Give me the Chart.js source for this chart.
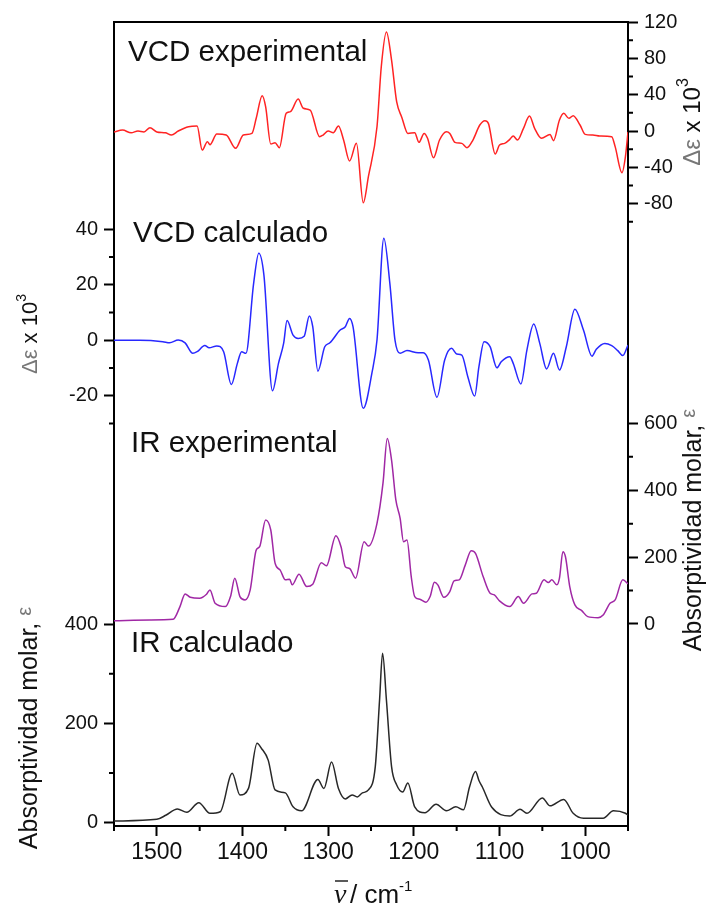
<!DOCTYPE html>
<html>
<head>
<meta charset="utf-8">
<script src="https://cdn.jsdelivr.net/npm/chart.js@4.4.1/dist/chart.umd.min.js"></script>
<style>
body { margin: 0; background: #fff; }
canvas { display: block; }
</style>
</head>
<body>
<canvas id="chart" width="707" height="909"></canvas>
<script>
// wavenumbers (cm-1) and values, one pair of arrays per trace
var vcdExpX = [1550,1540,1530,1522,1515,1508,1500,1490,1483,1475,1463,1453,1447,1441,1438,1430,1419,1408,1399,1389,1384,1377,1373,1367,1362,1357,1349,1344,1335,1329,1321,1310,1306,1300,1294,1288,1282,1275,1267,1259,1253,1243,1238,1232,1226,1220,1214,1207,1199,1194,1188,1184,1177,1170,1162,1158,1152,1144,1138,1131,1123,1117,1113,1105,1100,1094,1088,1084,1079,1072,1065,1059,1051,1041,1037,1030,1025,1019,1014,1006,1000,991,983,969,965,957,953,950];
var vcdExpY = [-1,1,-2,0,-1,3.6,-1,-2,-4.4,0,4.7,5.5,-21,-11.7,-15,-3.3,-4.4,-19,-4.4,-2.6,14,38.9,26.8,-14.3,-12.9,-18.4,19.5,21.3,35.2,25,23.1,-6.2,-4.4,0,-1.8,5.5,-9.9,-33,-13.6,-79,-50,4.7,70.8,109,78,32,15,-2.6,-1.8,-12.5,-2.6,-8,-29.4,-9.9,-0.7,-2.6,-12.5,-13.6,-18.4,-9.9,6.6,11.4,8.4,-25.3,-15.4,-13.6,-9.2,-5.5,-9.9,2.9,16.5,2.9,-8,-3.7,-10.6,12.1,19.5,14,16.9,6.6,-3.7,-4.4,-5.5,-6.2,-17.2,-45.9,-28.3,-1];

var vcdCalcX = [1550,1520,1493,1485,1475,1467,1458,1453,1444,1439,1430,1422,1413,1406,1401,1396,1387,1381,1375,1365,1358,1352,1348,1341,1335,1328,1322,1318,1312,1304,1298,1286,1280,1275,1271,1259,1249,1243,1235,1228,1222,1216,1208,1195,1189,1183,1173,1164,1156,1150,1144,1137,1129,1124,1118,1111,1103,1098,1088,1084,1075,1068,1060,1053,1045,1037,1030,1022,1012,1002,992,987,977,969,962,956,950];
var vcdCalcY = [0,0,-0.5,-0.9,0.1,-0.9,-4.7,-4.1,-1.9,-2.7,-2,-4.1,-15.9,-8.3,-4.1,-4.7,20.5,31.4,23.5,-18.2,-8.3,-1.1,7.1,1.9,0.7,1.5,8.8,4.9,-11.1,-2.3,-0.9,3.7,4.9,7.9,4.9,-24.5,-11.9,0.1,36.8,20.5,0.1,-4.7,-3.7,-4.5,-4.5,-7.1,-20.5,-7.1,-2.9,-4.9,-5.3,-13.1,-20.1,-9.5,-0.5,-2.3,-9.9,-7.7,-5.9,-8.3,-15.7,-3.5,5.9,-1.1,-10.3,-4.7,-10.7,-2.3,11.2,3.7,-5.7,-3.2,-1.1,-1.9,-3.7,-5.5,-1.7];

var irExpX = [1550,1508,1481,1473,1467,1461,1450,1442,1438,1432,1420,1414,1409,1403,1397,1391,1384,1380,1373,1367,1362,1356,1350,1345,1342,1334,1325,1318,1308,1302,1291,1285,1280,1275,1268,1258,1253,1243,1236,1231,1226,1221,1216,1212,1208,1203,1199,1193,1186,1181,1176,1172,1165,1158,1153,1147,1140,1133,1128,1119,1111,1106,1100,1088,1078,1072,1062,1057,1048,1043,1039,1033,1030,1026,1023,1018,1012,1004,997,985,979,971,965,956,950];
var irExpY = [10,12,14,52,90,80,77,89,102,62,52,82,137,82,72,102,221,231,311,281,182,161,132,134,117,149,112,119,183,174,264,231,171,166,137,246,233,301,421,555,490,371,316,246,251,141,82,74,65,82,125,117,80,97,129,132,176,219,211,141,92,87,69,52,82,62,90,92,132,124,132,117,137,216,201,112,57,40,22,19,27,62,72,132,120];

var irCalcX = [1550,1500,1489,1476,1465,1451,1438,1426,1412,1403,1393,1383,1378,1370,1362,1350,1341,1331,1312,1305,1296,1288,1280,1272,1266,1260,1253,1245,1240,1236.5,1232,1226,1220,1213,1207,1199,1187,1174,1162,1151,1142,1135,1128,1124,1120,1109,1088,1076,1068,1050,1041,1025,1014,1002,979,967,953,950];
var irCalcY = [3.4,6.8,15.5,27.6,20.9,40.3,18.9,22.1,99.4,55.8,69.2,159.8,150,126,66,60,32,24,87,69,122,69,48,56,52,60,66,113,247,341,247,113,76,62,80,32,20,37,24,32,26,72,103,85,72,31,13.5,27,19,50,34,47,19,9,9,24,19,15];

// tick labels
var xTicks = [1500,1400,1300,1200,1100,1000];
var vcdExpTicks = [-80,-40,0,40,80,120];
var irExpTicks = [0,200,400,600];
var vcdCalcTicks = [-20,0,20,40];
var irCalcTicks = [0,200,400];

// unlabelled short ticks
var xMinor = [1550,1450,1350,1250,1150,1050,950];
var vcdExpMinor = [100,60,20,-20,-60,-100];
var irExpMinor = [100,300,500];
var vcdCalcMinor = [30,10,-10,-30];
var irCalcMinor = [100,300];

var labelFont = {family: 'Liberation Sans, Arial, sans-serif', size: 20};

function points(xs, ys)
{
	return xs.map(function (x, i) { return {x: x, y: ys[i]}; });
}

function yAxis(position, min, max, ticks, weight, width)
{
	return {
		type: 'linear',
		position: position,
		min: min,
		max: max,
		weight: weight,
		afterBuildTicks: function (scale) {
			scale.ticks = ticks.map(function (v) { return {value: v}; });
		},
		afterFit: function (scale) { scale.width = width; },
		grid: {drawOnChartArea: false, tickLength: 10, tickWidth: 2, tickColor: '#000'},
		border: {display: true, width: 2, color: '#000'},
		ticks: {
			padding: 6,
			color: '#111',
			font: labelFont,
			callback: function (v) { return String(v); }
		}
	};
}

function line(label, xs, ys, color, axis)
{
	return {
		label: label,
		data: points(xs, ys),
		yAxisID: axis,
		borderColor: color,
		borderWidth: 1.5,
		pointRadius: 0,
		cubicInterpolationMode: 'monotone',
		fill: false
	};
}

// rotated title made of [text, colour, size, raise] parts
function rotatedText(ctx, cx, cy, parts)
{
	var total = 0;
	parts.forEach(function (p) {
		ctx.font = p[2] + 'px "Liberation Sans", Arial, sans-serif';
		p.w = ctx.measureText(p[0]).width;
		total += p.w;
	});
	ctx.save();
	ctx.translate(cx, cy);
	ctx.rotate(-Math.PI / 2);
	ctx.textBaseline = 'alphabetic';
	ctx.textAlign = 'left';
	var x = -total / 2;
	var base = parts[0][2] * 0.36;
	parts.forEach(function (p) {
		ctx.font = p[2] + 'px "Liberation Sans", Arial, sans-serif';
		ctx.fillStyle = p[1];
		ctx.fillText(p[0], x, base - (p[3] || 0));
		x += p.w;
	});
	ctx.restore();
}

var extras = {
	id: 'extras',
	afterLayout: function (chart)
	{
		// the two inner axes have no width of their own; give their labels room to show
		chart.scales.yVcdCalc.left = 0;
		chart.scales.yVcdExp.right = chart.width;
	},
	afterDraw: function (chart)
	{
		var ctx = chart.ctx;
		var area = chart.chartArea;
		var s = chart.scales;

		ctx.save();
		ctx.strokeStyle = '#000';
		ctx.lineWidth = 2;

		// top of the frame
		ctx.beginPath();
		ctx.moveTo(area.left - 1, area.top);
		ctx.lineTo(area.right + 1, area.top);
		ctx.stroke();

		// short ticks
		ctx.beginPath();
		xMinor.forEach(function (v) {
			var px = s.x.getPixelForValue(v);
			ctx.moveTo(px, s.x.top); ctx.lineTo(px, s.x.top + 5);
		});
		[['yVcdCalc', vcdCalcMinor], ['yIrCalc', irCalcMinor]].forEach(function (a) {
			a[1].forEach(function (v) {
				var py = s[a[0]].getPixelForValue(v);
				ctx.moveTo(area.left, py); ctx.lineTo(area.left - 5, py);
			});
		});
		[['yVcdExp', vcdExpMinor], ['yIrExp', irExpMinor]].forEach(function (a) {
			a[1].forEach(function (v) {
				var py = s[a[0]].getPixelForValue(v);
				ctx.moveTo(area.right, py); ctx.lineTo(area.right + 5, py);
			});
		});
		ctx.stroke();

		// panel names
		ctx.fillStyle = '#111';
		ctx.font = '29.5px "Liberation Sans", Arial, sans-serif';
		ctx.textAlign = 'left';
		ctx.textBaseline = 'alphabetic';
		ctx.fillText('VCD experimental', 128, 61);
		ctx.fillText('VCD calculado', 133, 242);
		ctx.fillText('IR experimental', 131, 452);
		ctx.fillText('IR calculado', 131, 652);

		// axis titles
		rotatedText(ctx, 29, 334, [['\u0394\u03b5 ', '#777', 22], ['x 10', '#111', 22], ['3', '#111', 14, 11]]);
		rotatedText(ctx, 691, 122, [['\u0394\u03b5 ', '#777', 24], ['x 10', '#111', 24], ['3', '#111', 16, 12]]);
		rotatedText(ctx, 28, 728, [['Absorptividad molar, ', '#111', 25], ['\u03b5', '#777', 20, 6]]);
		rotatedText(ctx, 692, 530, [['Absorptividad molar, ', '#111', 25], ['\u03b5', '#777', 20, 6]]);

		// x title: nu-bar / cm-1
		ctx.fillStyle = '#111';
		ctx.font = 'italic 28px "Liberation Serif", serif';
		ctx.fillText('\u03bd', 334, 903);
		ctx.lineWidth = 1.3;
		ctx.beginPath();
		ctx.moveTo(335, 881); ctx.lineTo(348, 881);
		ctx.stroke();
		ctx.font = '26px "Liberation Sans", Arial, sans-serif';
		ctx.fillText('/ cm', 350, 903);
		ctx.font = '15px "Liberation Sans", Arial, sans-serif';
		ctx.fillText('-1', 399, 891);
		ctx.restore();
	}
};

new Chart(document.getElementById('chart').getContext('2d'), {
	type: 'line',
	plugins: [extras],
	data: {
		datasets: [
			line('VCD experimental', vcdExpX, vcdExpY, 'rgb(255,35,35)', 'yVcdExp'),
			line('VCD calculado', vcdCalcX, vcdCalcY, 'rgb(40,40,255)', 'yVcdCalc'),
			line('IR experimental', irExpX, irExpY, 'rgb(160,40,165)', 'yIrExp'),
			line('IR calculado', irCalcX, irCalcY, 'rgb(40,40,40)', 'yIrCalc')
		]
	},
	options: {
		responsive: false,
		animation: false,
		layout: {padding: {top: 22, left: 0, right: 0, bottom: 0}},
		plugins: {legend: {display: false}, tooltip: {enabled: false}},
		scales: {
			x: {
				type: 'linear',
				position: 'bottom',
				reverse: true,
				min: 950,
				max: 1550,
				afterBuildTicks: function (scale) {
					scale.ticks = xTicks.map(function (v) { return {value: v}; });
				},
				afterFit: function (scale) { scale.height = 83; },
				grid: {drawOnChartArea: false, tickLength: 10, tickWidth: 2, tickColor: '#000'},
				border: {display: true, width: 2, color: '#000'},
				ticks: {
					padding: 3,
					color: '#111',
					autoSkip: false,
					maxRotation: 0,
					font: {family: 'Liberation Sans, Arial, sans-serif', size: 23},
					callback: function (v) { return String(v); }
				}
			},
			yIrCalc: yAxis('left', -6.6, 1612, irCalcTicks, 1, 114),
			yVcdCalc: yAxis('left', -175, 114.7, vcdCalcTicks, 0, 0),
			yVcdExp: yAxis('right', -765, 120, vcdExpTicks, 0, 0),
			yIrExp: yAxis('right', -604, 1800, irExpTicks, 1, 79)
		}
	}
});
</script>
</body>
</html>
